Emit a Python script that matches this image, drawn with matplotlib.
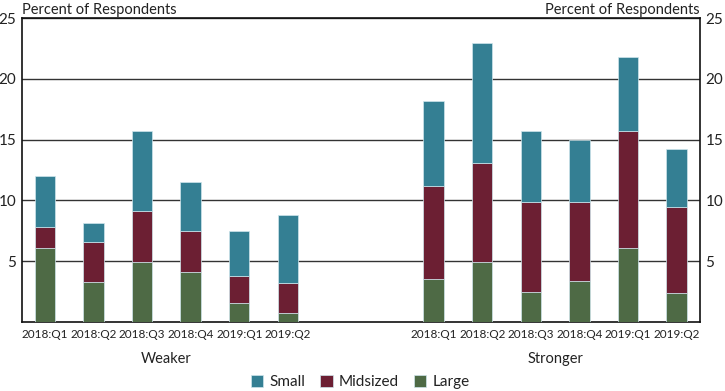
"""Stacked bars: weaker vs stronger demand, by bank size."""
import matplotlib
matplotlib.use("Agg")
import matplotlib.pyplot as plt
import numpy as np

quarters = ["2018:Q1", "2018:Q2", "2018:Q3", "2018:Q4", "2019:Q1", "2019:Q2"]
groups = ["Weaker", "Stronger"]

# segment heights
weaker_large = [6.05, 3.3, 4.93, 4.1, 1.55, 0.75]
weaker_mid = [1.75, 3.25, 4.17, 3.4, 2.25, 2.45]
weaker_small = [4.2, 1.6, 6.6, 4.0, 3.7, 5.6]

stronger_large = [3.5, 4.93, 2.5, 3.35, 6.05, 2.35]
stronger_mid = [7.7, 8.17, 7.4, 6.55, 9.65, 7.1]
stronger_small = [6.95, 9.87, 5.8, 5.07, 6.1, 4.8]

C_SMALL = "#347f93"
C_MID = "#6c1f33"
C_LARGE = "#4e6a45"
EDGE = "#cfe6ec"
TXT = "#222222"

plt.rcParams["font.family"] = ["Lato", "DejaVu Sans"]
plt.rcParams["text.color"] = TXT
plt.rcParams["xtick.color"] = TXT
plt.rcParams["ytick.color"] = TXT

fig = plt.figure(figsize=(7.25, 3.91), dpi=100)
ax = fig.add_axes([22 / 725, 69 / 391, 678 / 725, 304 / 391])

xw = np.arange(6)
xs = np.arange(6) + 8
x = np.concatenate([xw, xs])
large = np.array(weaker_large + stronger_large)
mid = np.array(weaker_mid + stronger_mid)
small = np.array(weaker_small + stronger_small)

w = 0.42
ax.bar(x, large, w, color=C_LARGE, edgecolor=EDGE, linewidth=0.5, label="Large", zorder=3)
ax.bar(x, mid, w, bottom=large, color=C_MID, edgecolor=EDGE, linewidth=0.5, label="Midsized", zorder=3)
ax.bar(x, small, w, bottom=large + mid, color=C_SMALL, edgecolor=EDGE, linewidth=0.5, label="Small", zorder=3)

ax.set_xlim(-0.47, 13.48)
ax.set_ylim(0, 25)
ax.set_yticks([5, 10, 15, 20, 25])
ax.yaxis.grid(True, color="#333333", linewidth=1.0, zorder=0)
ax.tick_params(axis="y", length=0, labelsize=11, pad=4, labelright=True, right=False)
ax.set_xticks(x)
ax.set_xticklabels(quarters * 2)
ax.tick_params(axis="x", length=0, labelsize=8.5, pad=5)
for sp in ax.spines.values():
    sp.set_color("#111111")
    sp.set_linewidth(1.2)

ax.text(0, 1.003, "Percent of Respondents", transform=ax.transAxes, ha="left", va="bottom", fontsize=10.5)
ax.text(1, 1.003, "Percent of Respondents", transform=ax.transAxes, ha="right", va="bottom", fontsize=10.5)

for g, pos in zip(groups, [xw.mean(), xs.mean()]):
    ax.text(pos, -0.10, g, transform=ax.get_xaxis_transform(), ha="center", va="top", fontsize=10.5)

h, l = ax.get_legend_handles_labels()
fig.legend(h[::-1], l[::-1], loc="center", bbox_to_anchor=(0.497, 0.022), ncol=3, frameon=False,
           fontsize=11, handlelength=0.8, handleheight=0.8, handletextpad=0.4, columnspacing=1.0)

fig.savefig("out.png", dpi=100)
